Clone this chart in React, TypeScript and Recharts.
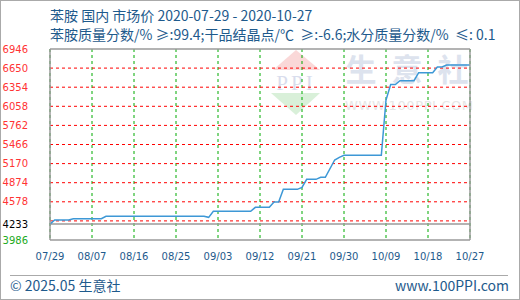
import React from "react";
import {
  CartesianGrid,
  Line,
  LineChart,
  ReferenceLine,
  XAxis,
  YAxis,
} from "recharts";

// price points (yuan/ton)
const dates = [
  "2020-07-29", "2020-07-30", "2020-08-02", "2020-08-03", "2020-08-09",
  "2020-08-10", "2020-08-31", "2020-09-01", "2020-09-02", "2020-09-10",
  "2020-09-11", "2020-09-14", "2020-09-15", "2020-09-16", "2020-09-17",
  "2020-09-20", "2020-09-21", "2020-09-22", "2020-09-24", "2020-09-25",
  "2020-09-26", "2020-09-28", "2020-09-29", "2020-09-30", "2020-10-08",
  "2020-10-09", "2020-10-10", "2020-10-11", "2020-10-12", "2020-10-15",
  "2020-10-16", "2020-10-19", "2020-10-20", "2020-10-21", "2020-10-22",
  "2020-10-27",
];
const prices = [
  4233, 4296, 4296, 4316, 4316,
  4353, 4353, 4337, 4430, 4430,
  4492, 4492, 4574, 4574, 4771,
  4771, 4802, 4926, 4926, 4957,
  4957, 5226, 5267, 5298, 5298,
  6155, 6396, 6396, 6455, 6455,
  6579, 6579, 6667, 6667, 6698,
  6698,
];

const xTickDates = [
  "2020-07-29", "2020-08-07", "2020-08-16", "2020-08-25", "2020-09-03",
  "2020-09-12", "2020-09-21", "2020-09-30", "2020-10-09", "2020-10-18",
  "2020-10-27",
];

const BASE = 4233;
const Y_MIN = 3986;
const Y_MAX = 6946;
const leftTicks = [3986, 4233, 4578, 4874, 5170, 5466, 5762, 6058, 6354, 6650, 6946];
const rightTickLabels = [
  "-5.83%", "0.00%", "8.16%", "15.15%", "22.14%", "29.13%",
  "36.13%", "43.12%", "50.11%", "57.10%", "64.09%",
];
const gridValues = [4282, 4578, 4874, 5170, 5466, 5762, 6058, 6354, 6650];

const DAY = 24 * 3600 * 1000;
const start = Date.parse(dates[0]);
const dayOf = (d: string) => Math.round((Date.parse(d) - start) / DAY);
const fmtDay = (n: number) => {
  const d = new Date(start + n * DAY);
  const mm = String(d.getUTCMonth() + 1).padStart(2, "0");
  const dd = String(d.getUTCDate()).padStart(2, "0");
  return `${mm}/${dd}`;
};

const data = dates.map((d, i) => ({ day: dayOf(d), price: prices[i] }));
const xTicks = xTickDates.map(dayOf);

const TEXT = "#1e5a8c";
const FRAME = "#9a9a9a";
const tickFont = "DejaVu Sans";

const tickColor = (v: number) =>
  v > BASE ? "#ff3333" : v === BASE ? "#000000" : "#22aa22";

const LeftTick = (props: any) => {
  const { x, y, payload } = props;
  return (
    <text x={x} y={y} dy="0.355em" textAnchor="end" fontSize={10}
      fontFamily={tickFont} fill={tickColor(payload.value)}>
      {payload.value}
    </text>
  );
};

const RightTick = (props: any) => {
  const { x, y, payload } = props;
  const i = leftTicks.indexOf(payload.value);
  return (
    <text x={x} y={y} dy="0.355em" textAnchor="start" fontSize={10}
      fontFamily={tickFont} fill={tickColor(payload.value)}>
      {rightTickLabels[i]}
    </text>
  );
};

function Watermark() {
  return (
    <svg width={520} height={300} style={{ position: "absolute", left: 0, top: 0 }}>
      <polygon points="273,70 296,50 320,70" fill="#fad8d8" />
      <text x={296} y={90} textAnchor="middle" fontSize={21}
        fontFamily="Liberation Serif" fill="#d9dded" letterSpacing={3}>
        PPI
      </text>
      <polygon points="271,93 320,93 296,115" fill="#d9f0d9" />
      {["生", "意", "社"].map((c, i) => (
        <text key={c} x={361 + i * 46} y={81} textAnchor="middle" fontSize={31}
          fontWeight="bold" fontFamily="Noto Sans CJK SC" fill="#dde3ee">
          {c}
        </text>
      ))}
      <text x={345} y={110} fontSize={13} fontFamily="DejaVu Sans"
        fill="#e6e6e6" letterSpacing={0.6}>
        WWW.100PPI.COM
      </text>
    </svg>
  );
}

export default function App() {
  const cjk = "'Noto Sans CJK SC', 'Noto Sans', sans-serif";
  return (
    <div style={{ position: "absolute", left: 0, top: 0, width: 520, height: 300, background: "#fff" }}>
      <Watermark />
      <div style={{ position: "absolute", left: 0, top: 0 }}>
        <LineChart width={520} height={300} data={data}
          margin={{ top: 49, right: 0, bottom: 30, left: 0 }}>
          <CartesianGrid yAxisId="left" horizontal={false} stroke="#00aa00"
            strokeDasharray="3 3" />
          <XAxis dataKey="day" type="number" domain={[0, 90]} ticks={xTicks}
            tickFormatter={fmtDay} axisLine={{ stroke: FRAME, strokeWidth: 1.5 }}
            tickLine={false} tickSize={0}
            tickMargin={13} height={30} interval={0}
            tick={{ fill: TEXT, fontSize: 10, fontFamily: tickFont }} />
          <YAxis yAxisId="left" type="number" domain={[Y_MIN, Y_MAX]} ticks={leftTicks}
            interval={0} width={50} axisLine={{ stroke: FRAME, strokeWidth: 1.5 }}
            tickLine={false} tickSize={0}
            tickMargin={22} tick={<LeftTick />} />
          <YAxis yAxisId="right" orientation="right" type="number" domain={[Y_MIN, Y_MAX]}
            ticks={leftTicks} interval={0} width={50}
            axisLine={{ stroke: FRAME, strokeWidth: 1.5 }} tickLine={false}
            tickSize={0} tickMargin={5} tick={<RightTick />} />
          {gridValues.map((v) => (
            <ReferenceLine key={v} yAxisId="left" y={v} stroke="#ff0000"
              strokeDasharray="3 3" />
          ))}
          <ReferenceLine yAxisId="left" y={BASE} stroke={FRAME} strokeWidth={1.5} />
          <ReferenceLine yAxisId="left" y={Y_MAX} stroke={FRAME} strokeWidth={1.5} />
          <Line yAxisId="left" type="linear" dataKey="price" stroke="#3d98d6"
            strokeWidth={1.5} dot={false} isAnimationActive={false} />
        </LineChart>
      </div>
      <div style={{ position: "absolute", left: 50, top: 5, fontSize: 14, lineHeight: "20px", color: TEXT, fontFamily: cjk, whiteSpace: "pre" }}>
        苯胺 国内 市场价 2020-07-29 - 2020-10-27
      </div>
      <div style={{ position: "absolute", left: 50, top: 24, fontSize: 14, lineHeight: "20px", color: TEXT, fontFamily: cjk, whiteSpace: "pre" }}>
        {"苯胺质量分数/% ≥:99.4;干品结晶点/℃  ≥:-6.6;水分质量分数/%  ≤: 0.1"}
      </div>
      <div style={{ position: "absolute", left: 10, top: 275, width: 498, borderTop: "1px solid #aaaaaa" }} />
      <div style={{ position: "absolute", left: 10, top: 275, fontSize: 14, lineHeight: "20px", color: TEXT, fontFamily: cjk }}>
        © 2025.05 生意社
      </div>
      <div style={{ position: "absolute", right: 11, top: 275, fontSize: 14, lineHeight: "20px", color: TEXT, fontFamily: cjk }}>
        www.100PPI.com
      </div>
      <div style={{ position: "absolute", left: 0, top: 0, width: 520, height: 300, boxSizing: "border-box", border: "1px solid #aaaaaa", pointerEvents: "none" }} />
    </div>
  );
}
